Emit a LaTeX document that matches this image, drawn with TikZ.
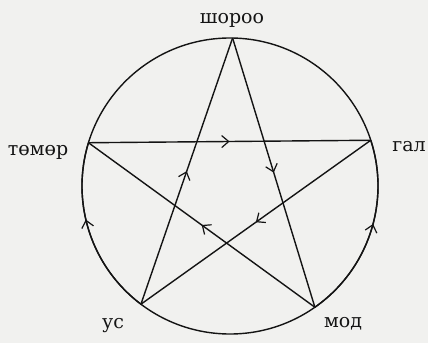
\documentclass[tikz,border=0pt]{standalone}
\usepackage{fontspec}
\setmainfont{DejaVu Serif}
\usetikzlibrary{arrows.meta,decorations.markings,calc}
\definecolor{paper}{RGB}{241,241,239}
\definecolor{ink}{RGB}{20,20,20}
\tikzset{
  line/.style={draw=ink,line width=1.4pt},
  midarrow/.style={line,postaction={decorate},decoration={markings,
    mark=at position #1 with {\arrow[ink,line width=1.2pt]{Straight Barb[length=7pt,width=12pt]}}}},
  lbl/.style={font=\fontsize{19}{19}\selectfont,text=ink,inner sep=0pt}
}
\begin{document}
\begin{tikzpicture}[x=1pt,y=1pt]
\fill[paper] (0,0) rectangle (428,343);
\useasboundingbox (0,0) rectangle (428,343);
\coordinate (c) at (230,157);
\coordinate (shoroo) at ($(c)+(89:148)$);
\coordinate (tomor) at ($(c)+(163:148)$);
\coordinate (us) at ($(c)+(233:148)$);
\coordinate (mod) at ($(c)+(305:148)$);
\coordinate (gal) at ($(c)+(18:148)$);
% circle
\draw[line] (c) circle[radius=148];
\draw[midarrow=0.57] (us) arc[start angle=233,end angle=163,radius=148];
\draw[midarrow=0.55] (mod) arc[start angle=305,end angle=378,radius=148];
% star
\draw[midarrow=0.5] (shoroo) -- (mod);
\draw[midarrow=0.5] (tomor) -- (gal);
\draw[midarrow=0.5] (gal) -- (us);
\draw[midarrow=0.5] (mod) -- (tomor);
\draw[midarrow=0.5] (us) -- (shoroo);
% labels
\node[lbl] (lshoroo) at (232,323) {шороо};
\node[lbl] (ltomor) at (38,191) {төмөр};
\node[lbl] (lgal) at (409,196) {гал};
\node[lbl] (lus) at (113,17) {ус};
\node[lbl] (lmod) at (343,19) {мод};
\end{tikzpicture}
\end{document}
